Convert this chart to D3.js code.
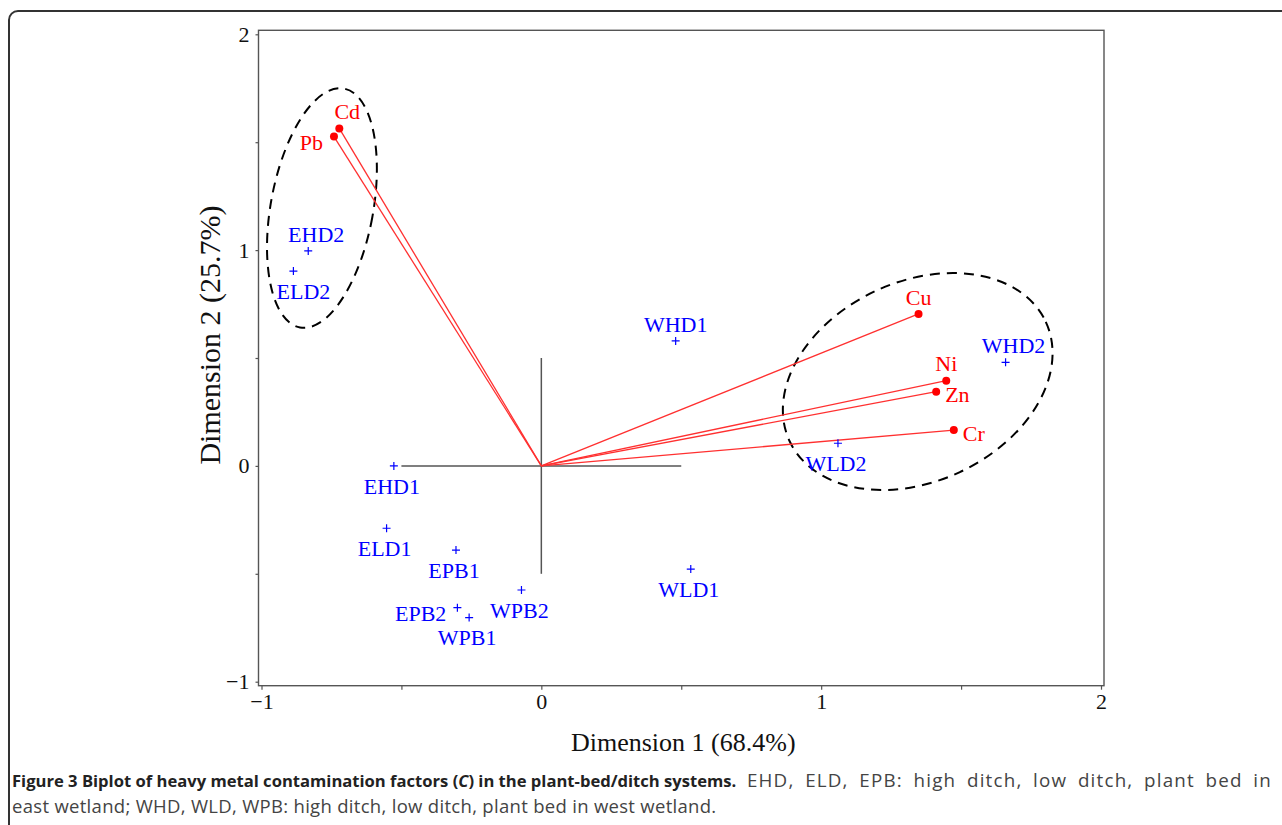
<!DOCTYPE html>
<html>
<head>
<meta charset="utf-8">
<script src="https://cdn.jsdelivr.net/npm/d3@7"></script>
<style>
  body { margin: 0; background: #fff; }
  svg text { font-family: "Liberation Serif", "Times New Roman", serif; }
</style>
</head>
<body>
<div id="chart"></div>
<script>
// observation scores (blue crosses)
var obsNames = ["EHD1", "ELD1", "EPB1", "EPB2", "WPB1", "WPB2", "EHD2", "ELD2", "WHD1", "WLD1", "WHD2", "WLD2"];
var obsDim1 = [-0.527, -0.553, -0.305, -0.300, -0.258, -0.071, -0.833, -0.886, 0.480, 0.534, 1.659, 1.060];
var obsDim2 = [0.000, -0.289, -0.390, -0.657, -0.703, -0.575, 0.996, 0.903, 0.579, -0.478, 0.480, 0.105];

// metal loadings (red vectors)
var varNames = ["Pb", "Cd", "Cu", "Ni", "Zn", "Cr"];
var varDim1 = [-0.741, -0.722, 1.348, 1.447, 1.411, 1.474];
var varDim2 = [1.526, 1.564, 0.704, 0.395, 0.344, 0.166];

// axis ticks
var xTicks = [-1, -0.5, 0, 0.5, 1, 1.5, 2];
var yTicks = [-1, -0.5, 0, 0.5, 1, 1.5, 2];
var axisTitles = ["Dimension 1 (68.4%)", "Dimension 2 (25.7%)"];

// label placement, picked by eye (not data)
var labelPlace = {
    EHD1: "below", ELD1: "below", EPB1: "below", EPB2: "left", WPB1: "below", WPB2: "below",
    EHD2: "aboveR", ELD2: "belowR", WHD1: "above", WLD1: "below", WHD2: "aboveR", WLD2: "below",
    Pb: "left", Cd: "aboveR", Cu: "above", Ni: "above", Zn: "right", Cr: "right"
};

// dashed group ellipses: centre in data units, radii in dimension-1 units, screen tilt
var groupEllipses = [
    { cx: -0.784, cy: 1.195, rx: 0.183, ry: 0.434, tilt: 10.4 },
    { cx: 1.345, cy: 0.391, rx: 0.505, ry: 0.357, tilt: -25 }
];

const width = 1282,
    height = 825,
    blue = "#0000ff",
    red = "#ff0000",
    axisColor = "#555555";

var svg = d3.select("#chart").append("svg")
    .attr("width", width)
    .attr("height", height);

// outer figure frame (runs off the right and bottom edges)
svg.append("rect")
    .attr("x", 9).attr("y", 11)
    .attr("width", 1300).attr("height", 840)
    .attr("rx", 9)
    .attr("fill", "none")
    .attr("stroke", "#333")
    .attr("stroke-width", 2);

// scales
var x = d3.scaleLinear().domain([-1, 2]).range([261.5, 1101]);
var y = d3.scaleLinear().domain([-1, 2]).range([681.7, 34.3]);

// plot box
var boxL = x(-1) - 3, boxR = x(2) + 3, boxT = y(2) - 4, boxB = y(-1) + 4;
svg.append("rect")
    .attr("x", boxL).attr("y", boxT)
    .attr("width", boxR - boxL).attr("height", boxB - boxT)
    .attr("fill", "none")
    .attr("stroke", axisColor)
    .attr("stroke-width", 1.4);

function fmt(d) {
    return Number.isInteger(d) ? d3.format("d")(d) : "";
}

// x axis
var gx = svg.append("g")
    .attr("transform", "translate(0," + boxB + ")")
    .call(d3.axisBottom(x).tickValues(xTicks).tickSize(4).tickPadding(4).tickFormat(fmt));
gx.select(".domain").remove();
gx.selectAll("line").attr("stroke", axisColor).attr("stroke-width", 1.2);
gx.selectAll("text").attr("font-size", 22).attr("fill", "#111")
    .attr("font-family", "Liberation Serif");

// y axis
var gy = svg.append("g")
    .attr("transform", "translate(" + boxL + ",0)")
    .call(d3.axisLeft(y).tickValues(yTicks).tickSize(3).tickPadding(6).tickFormat(fmt));
gy.select(".domain").remove();
gy.selectAll("line").attr("stroke", axisColor).attr("stroke-width", 1.2);
gy.selectAll("text").attr("font-size", 22).attr("fill", "#111")
    .attr("font-family", "Liberation Serif");

// axis titles
svg.append("text")
    .attr("x", (boxL + boxR) / 2 + 2)
    .attr("y", 751)
    .attr("text-anchor", "middle")
    .attr("font-size", 26)
    .attr("fill", "#111")
    .text(axisTitles[0]);
svg.append("text")
    .attr("transform", "translate(220,335) rotate(-90)")
    .attr("text-anchor", "middle")
    .attr("font-size", 30)
    .attr("fill", "#111")
    .text(axisTitles[1]);

// crosshair through origin
svg.append("line")
    .attr("x1", x(-0.5)).attr("x2", x(0.5))
    .attr("y1", y(0)).attr("y2", y(0))
    .attr("stroke", axisColor).attr("stroke-width", 1.5);
svg.append("line")
    .attr("x1", x(0)).attr("x2", x(0))
    .attr("y1", y(0.5)).attr("y2", y(-0.5))
    .attr("stroke", axisColor).attr("stroke-width", 1.5);

// ellipses
var kx = x(1) - x(0);
svg.append("g").selectAll("ellipse")
    .data(groupEllipses)
    .enter().append("ellipse")
    .attr("transform", function(d) {
        return "translate(" + x(d.cx) + "," + y(d.cy) + ") rotate(" + d.tilt + ")";
    })
    .attr("rx", function(d) { return d.rx * kx; })
    .attr("ry", function(d) { return d.ry * kx; })
    .attr("fill", "none")
    .attr("stroke", "#000")
    .attr("stroke-width", 2)
    .attr("stroke-dasharray", "10,7");

// label helper
function placeLabel(sel, px, py, name) {
    var p = labelPlace[name];
    var dx = 0, dy = 0, anchor = "middle";
    if (p == "above") { dy = -17; }
    else if (p == "aboveR") { dy = -17; dx = 8; }
    else if (p == "below") { dy = 20; dx = -2; }
    else if (p == "belowR") { dy = 20; dx = 10; }
    else if (p == "left") { dx = -11; dy = 6; anchor = "end"; }
    else if (p == "right") { dx = 9; dy = 3; anchor = "start"; }
    sel.attr("x", px + dx)
        .attr("y", py + dy)
        .attr("dy", "0.35em")
        .attr("text-anchor", anchor);
}

// loading vectors
var vars = varNames.map(function(n, i) { return { name: n, d1: varDim1[i], d2: varDim2[i] }; });
var gv = svg.append("g");
gv.selectAll("line")
    .data(vars)
    .enter().append("line")
    .attr("x1", x(0)).attr("y1", y(0))
    .attr("x2", function(d) { return x(d.d1); })
    .attr("y2", function(d) { return y(d.d2); })
    .attr("stroke", "#ff3030")
    .attr("stroke-width", 1.3);
gv.selectAll("circle")
    .data(vars)
    .enter().append("circle")
    .attr("cx", function(d) { return x(d.d1); })
    .attr("cy", function(d) { return y(d.d2); })
    .attr("r", 4)
    .attr("fill", red);
gv.selectAll("text")
    .data(vars)
    .enter().append("text")
    .attr("font-size", 22)
    .attr("fill", red)
    .each(function(d) { placeLabel(d3.select(this), x(d.d1), y(d.d2), d.name); })
    .text(function(d) { return d.name; });

// observation crosses
var obs = obsNames.map(function(n, i) { return { name: n, d1: obsDim1[i], d2: obsDim2[i] }; });
var go = svg.append("g");
go.selectAll("path")
    .data(obs)
    .enter().append("path")
    .attr("d", function(d) {
        var cx = x(d.d1), cy = y(d.d2), s = 4;
        return "M" + (cx - s) + "," + cy + "H" + (cx + s) + "M" + cx + "," + (cy - s) + "V" + (cy + s);
    })
    .attr("stroke", blue)
    .attr("stroke-width", 1.2);
go.selectAll("text")
    .data(obs)
    .enter().append("text")
    .attr("font-size", 22)
    .attr("fill", blue)
    .each(function(d) { placeLabel(d3.select(this), x(d.d1), y(d.d2), d.name); })
    .text(function(d) { return d.name; });

// caption (regular part of the first line stretched to the frame width)
var capFont = "'Open Sans', 'Noto Sans', sans-serif";
var l1 = svg.append("text").attr("x", 12).attr("y", 787)
    .style("font-family", capFont);
l1.append("tspan").attr("font-weight", "bold").attr("fill", "#222").attr("font-size", 16.6)
    .text("Figure 3 Biplot of heavy metal contamination factors (");
l1.append("tspan").attr("font-weight", "bold").attr("font-style", "italic").attr("fill", "#222")
    .attr("font-size", 16.6).text("C");
l1.append("tspan").attr("font-weight", "bold").attr("fill", "#222").attr("font-size", 16.6)
    .text(") in the plant-bed/ditch systems.");
var rest = l1.append("tspan").attr("fill", "#444").attr("font-size", 18.8).attr("letter-spacing", 1.2)
    .text(" EHD, ELD, EPB: high ditch, low ditch, plant bed in");
var natural = l1.node().getComputedTextLength();
var gaps = rest.text().split(" ").length - 1;
rest.attr("word-spacing", Math.max(0, (1272 - 12 - natural) / gaps));

svg.append("text").attr("x", 12).attr("y", 813).attr("fill", "#444")
    .attr("font-size", 18.5).attr("letter-spacing", 0.3)
    .style("font-family", capFont)
    .text("east wetland; WHD, WLD, WPB: high ditch, low ditch, plant bed in west wetland.");
</script>
</body>
</html>
